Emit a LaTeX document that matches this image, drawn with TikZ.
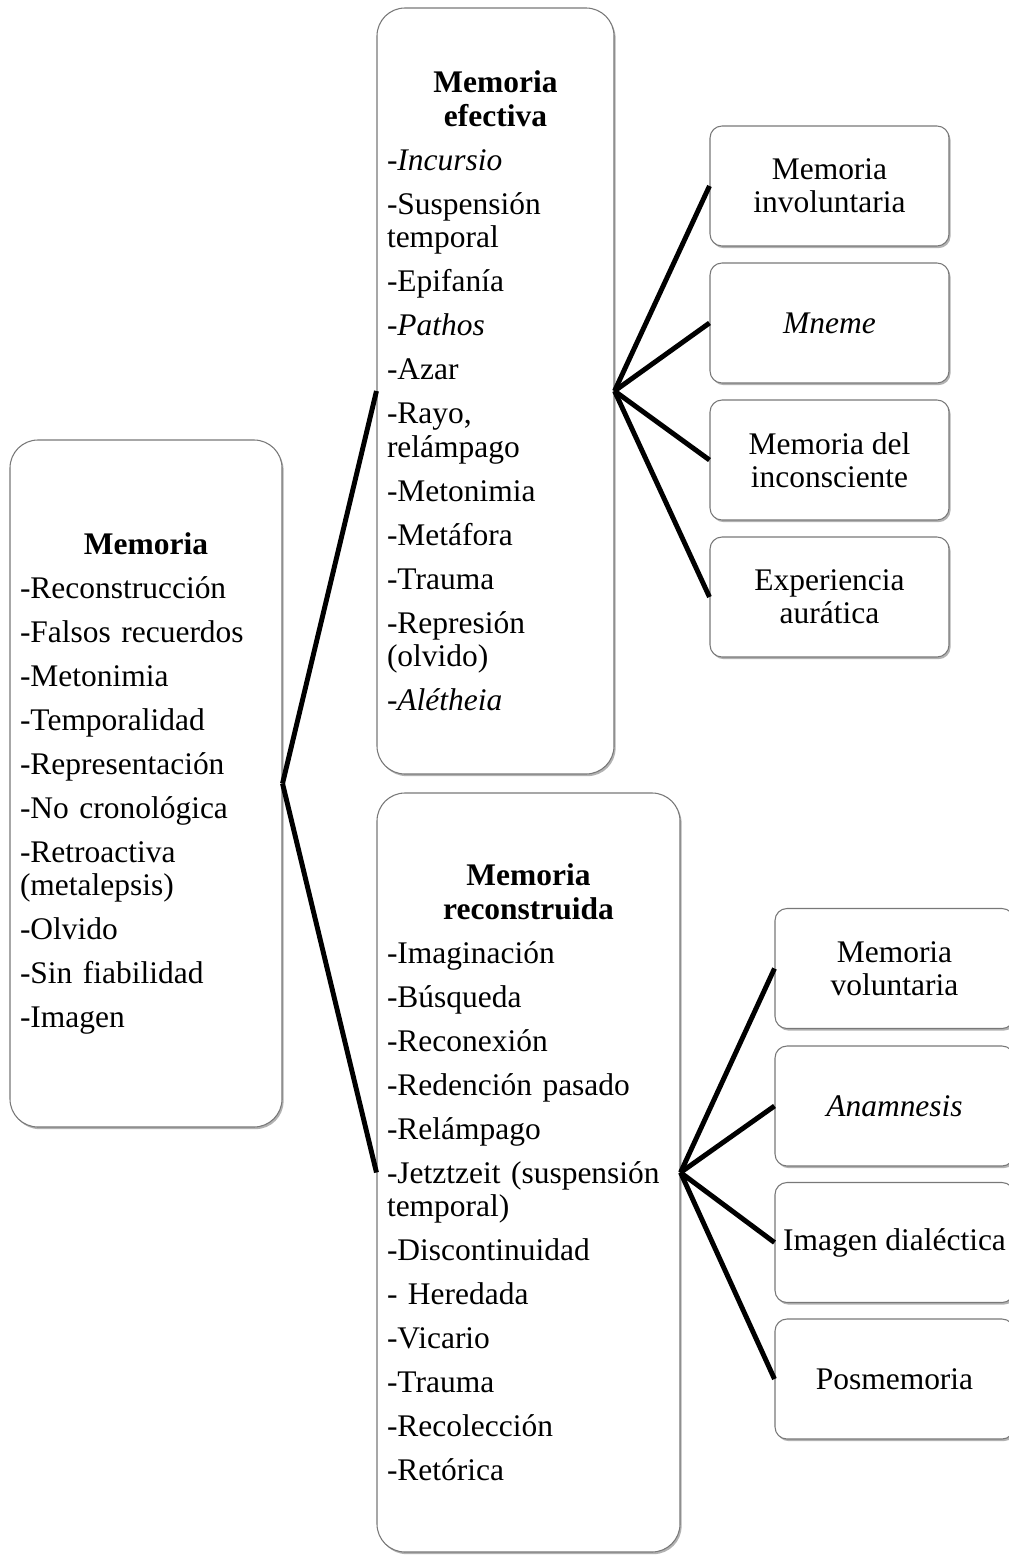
\documentclass[tikz,border=0pt]{standalone}
\usepackage{fontspec}
\setmainfont{Liberation Serif}
\usetikzlibrary{shadows}
\definecolor{boxline}{RGB}{120,120,120}
\tikzset{
  boxbase/.style={draw=boxline, line width=0.8pt, fill=white,
    drop shadow={shadow xshift=1.2pt, shadow yshift=-1.6pt, opacity=0.3, fill=black}},
  bigbox/.style={boxbase, rounded corners=21pt, inner xsep=7.5pt, inner ysep=0pt,
    font=\fontsize{23.6}{25.2}\selectfont\setlength{\parskip}{7.8pt}\setlength{\parindent}{0pt}\raggedright},
  smallbox/.style={boxbase, rounded corners=9pt, align=center, inner sep=0pt,
    minimum width=179.25pt, minimum height=90pt,
    font=\fontsize{23.6}{24.6}\selectfont},
  link/.style={line width=3.7pt, black}
}
\begin{document}
\begin{tikzpicture}[x=0.75pt, y=-0.75pt]
\useasboundingbox (0,0) rectangle (1009,1555);

% Left box
\node[bigbox, text width=189pt, minimum height=515.25pt] (mem) at (146,783.5)
{{\centering\bfseries Memoria\par}
-Reconstrucción\par
-Falsos recuerdos\par
-Metonimia\par
-Temporalidad\par
-Representación\par
-No cronológica\par
-Retroactiva\\(metalepsis)\par
-Olvido\par
-Sin fiabilidad\par
-Imagen\par};

% Memoria efectiva
\node[bigbox, text width=162.75pt, minimum height=574.5pt] (eff) at (495.5,391)
{{\centering\bfseries Memoria\\efectiva\par}
-\textit{Incursio}\par
-Suspensión\\temporal\par
-Epifanía\par
-\textit{Pathos}\par
-Azar\par
-Rayo,\\relámpago\par
-Metonimia\par
-Metáfora\par
-Trauma\par
-Represión\\(olvido)\par
-\textit{Alétheia}\par};

% Memoria reconstruida
\node[bigbox, text width=212.25pt, minimum height=569.25pt] (rec) at (528.5,1172.5)
{{\centering\bfseries Memoria\\reconstruida\par}
-Imaginación\par
-Búsqueda\par
-Reconexión\par
-Redención pasado\par
-Relámpago\par
\mbox{-Jetztzeit (suspensión}\\temporal)\par
-Discontinuidad\par
- Heredada\par
-Vicario\par
-Trauma\par
-Recolección\par
-Retórica\par};

% Right top group
\node[smallbox] (invol) at (829.5,186) {Memoria\\involuntaria};
\node[smallbox] (mneme) at (829.5,323) {\textit{Mneme}};
\node[smallbox] (incon) at (829.5,460) {Memoria del\\inconsciente};
\node[smallbox] (aura) at (829.5,597) {Experiencia\\aurática};

% Right bottom group
\node[smallbox] (vol) at (894.5,968.5) {Memoria\\voluntaria};
\node[smallbox] (anam) at (894.5,1106) {\textit{Anamnesis}};
\node[smallbox] (dial) at (894.5,1242.5) {Imagen dialéctica};
\node[smallbox] (posm) at (894.5,1379) {Posmemoria};

% Connectors
\draw[link] (mem.east) -- (eff.west);
\draw[link] (mem.east) -- (rec.west);
\draw[link] (eff.east) -- (invol.west);
\draw[link] (eff.east) -- (mneme.west);
\draw[link] (eff.east) -- (incon.west);
\draw[link] (eff.east) -- (aura.west);
\draw[link] (rec.east) -- (vol.west);
\draw[link] (rec.east) -- (anam.west);
\draw[link] (rec.east) -- (dial.west);
\draw[link] (rec.east) -- (posm.west);
\end{tikzpicture}
\end{document}
